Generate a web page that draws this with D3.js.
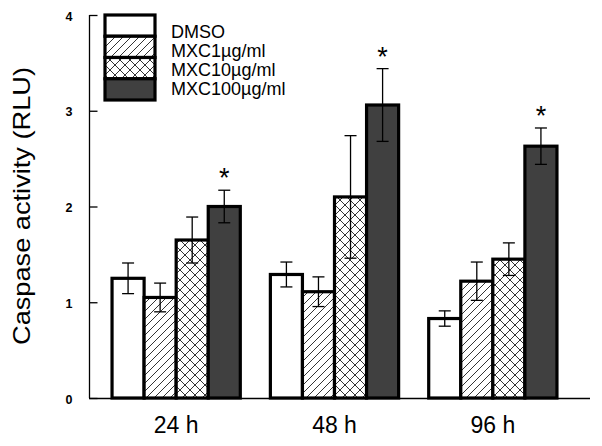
<!DOCTYPE html>
<html><head><meta charset="utf-8">
<script src="https://cdn.jsdelivr.net/npm/d3@7"></script>
<style>body{margin:0;background:#fff}svg{display:block}text{font-family:"Liberation Sans",Arial,sans-serif}</style>
</head><body><svg id="c" width="602" height="446"></svg>
<script>
const groups = ["24 h", "48 h", "96 h"];
const seriesNames = ["DMSO", "MXC1µg/ml", "MXC10µg/ml", "MXC100µg/ml"];
const dmso    = [1.25, 1.29, 0.83];
const mxc1    = [1.05, 1.11, 1.22];
const mxc10   = [1.65, 2.10, 1.45];
const mxc100  = [2.00, 3.06, 2.63];
const errDmso   = [0.16, 0.13, 0.08];
const errMxc1   = [0.15, 0.155, 0.20];
const errMxc10  = [0.24, 0.64, 0.17];
const errMxc100 = [0.17, 0.38, 0.19];
const significant = [false, false, false, true];
const yTicks = [0, 1, 2, 3, 4];

const values = [dmso, mxc1, mxc10, mxc100];
const errs = [errDmso, errMxc1, errMxc10, errMxc100];
const fills = ["#ffffff", "url(#diag)", "url(#cross)", "#404040"];

const svg = d3.select("#c");
const defs = svg.append("defs");
const pd = defs.append("pattern").attr("id","diag").attr("patternUnits","userSpaceOnUse").attr("width",8).attr("height",8);
pd.append("rect").attr("width",8).attr("height",8).attr("fill","#fff");
pd.append("path").attr("d","M0,8 L8,0 M-2,2 L2,-2 M6,10 L10,6").attr("stroke","#000").attr("stroke-width",0.8);
const pc = defs.append("pattern").attr("id","cross").attr("patternUnits","userSpaceOnUse").attr("width",10).attr("height",10);
pc.append("rect").attr("width",10).attr("height",10).attr("fill","#fff");
pc.append("path").attr("d","M0,10 L10,0 M-2,2 L2,-2 M8,12 L12,8 M0,0 L10,10 M-2,8 L2,12 M8,-2 L12,2").attr("stroke","#000").attr("stroke-width",0.8);

const y = d3.scaleLinear().domain([0,4]).range([398,15]);
const x0 = d3.scaleBand().domain(groups).range([97,572]).paddingInner(0.19).paddingOuter(0.095);
const x1 = d3.scaleBand().domain(d3.range(4)).range([0, x0.bandwidth()]);

// axes
const yAxis = d3.axisRight(y).tickValues(yTicks).tickSize(8).tickFormat(d3.format("d"));
const ya = svg.append("g").attr("transform","translate(89.5,0)").call(yAxis);
ya.select(".domain").attr("stroke","#000").attr("stroke-width",1.3).attr("d","M0,15V398");
ya.selectAll(".tick line").attr("stroke","#000").attr("stroke-width",1.3);
ya.selectAll(".tick text").attr("x",-17).attr("text-anchor","end").attr("font-weight","bold").attr("font-size",12.5).attr("fill","#000").attr("dy","0.4em");

const xAxis = d3.axisBottom(x0).tickSize(0);
const xa = svg.append("g").attr("transform","translate(0,398.5)").call(xAxis);
xa.select(".domain").attr("stroke","#000").attr("stroke-width",1.3).attr("d","M89,0H590");
xa.selectAll(".tick text").attr("font-size",23).attr("fill","#000").attr("y",18).attr("dy","0.71em");

svg.append("text").attr("transform","translate(30,206) rotate(-90)").attr("text-anchor","middle")
  .attr("font-size",24).attr("textLength",278).attr("lengthAdjust","spacingAndGlyphs").text("Caspase activity (RLU)");

// bars
groups.forEach((g,gi)=>{
  const gx = x0(g);
  values.forEach((vals,si)=>{
    const bx = gx + x1(si);
    svg.append("rect").attr("x",bx).attr("y",y(vals[gi])).attr("width",x1.bandwidth()).attr("height",y(0)-y(vals[gi]))
      .attr("fill",fills[si]).attr("stroke","#000").attr("stroke-width",3.2);
  });
  values.forEach((vals,si)=>{
    const cx = gx + x1(si) + x1.bandwidth()/2;
    const v = vals[gi], e = errs[si][gi];
    const eg = svg.append("g").attr("stroke","#000").attr("stroke-width",1.3);
    eg.append("line").attr("x1",cx).attr("x2",cx).attr("y1",y(v+e)).attr("y2",y(v-e));
    eg.append("line").attr("x1",cx-6).attr("x2",cx+6).attr("y1",y(v+e)).attr("y2",y(v+e));
    eg.append("line").attr("x1",cx-6).attr("x2",cx+6).attr("y1",y(v-e)).attr("y2",y(v-e));
    if (significant[si]) {
      svg.append("text").attr("x",cx).attr("y",y(v+e)-3).attr("text-anchor","middle").attr("font-size",27).text("*");
    }
  });
});

// legend
const lg = svg.append("g");
const rowH = 21.25;
seriesNames.forEach((n,i)=>{
  lg.append("rect").attr("x",105).attr("y",15+i*rowH).attr("width",50).attr("height",rowH)
    .attr("fill",fills[i]).attr("stroke","#000").attr("stroke-width",3.2);
  lg.append("text").attr("x",171).attr("y",31.5+i*19).attr("dy","0.35em").attr("font-size",18).text(n);
});
</script></body></html>
